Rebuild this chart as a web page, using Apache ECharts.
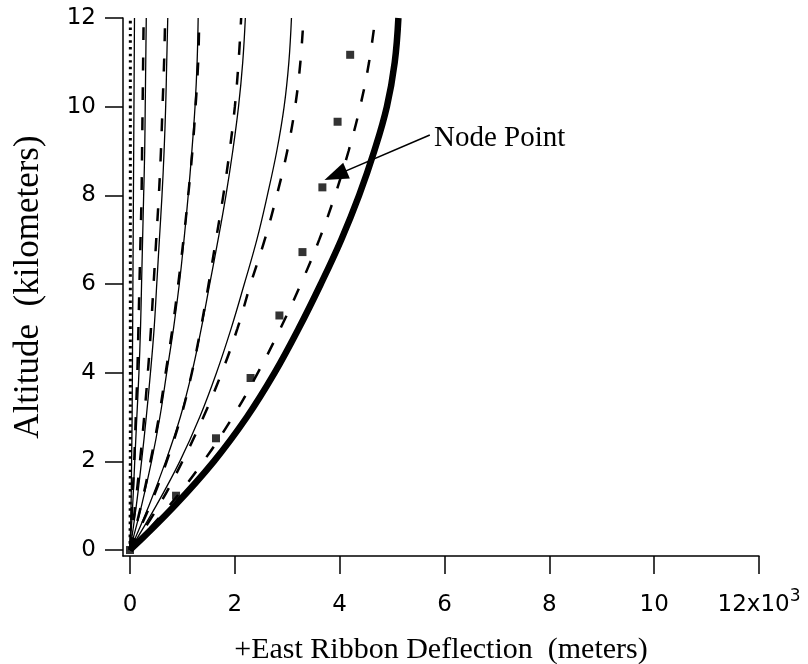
<!DOCTYPE html>
<html><head><meta charset="utf-8">
<script src="https://cdn.jsdelivr.net/npm/echarts@6/dist/echarts.min.js"></script>
<style>html,body{margin:0;padding:0;background:#fff}#c{width:808px;height:664px}</style>
</head><body><div id="c"></div>
<script>
// altitude samples (km)
const altitudes = [0,1,2,3,4,5,6,7,8,9,10,11,12];
// east deflection (m) per curve at the altitudes above
const dottedA = [0,3,5,6,6,6,6,6,6,6,6,6,6];
const solidB  = [0,20,30,40,45,50,55,60,65,70,75,80,85];
const solidC  = [0,50,90,130,170,200,220,240,260,280,290,300,310];
const dashC   = [0,40,80,110,140,160,180,200,220,230,240,250,260];
const solidD  = [0,120,220,310,390,460,510,560,610,650,680,700,720];
const dashD   = [0,100,190,270,340,400,450,500,550,590,620,650,670];
const solidE  = [0,220,410,570,700,830,940,1030,1110,1180,1240,1280,1300];
const dashE   = [0,210,390,550,680,810,920,1020,1110,1190,1250,1300,1320];
const solidF  = [0,360,680,960,1180,1360,1520,1680,1830,1960,2070,2150,2200];
const dashF   = [0,380,700,970,1180,1350,1500,1640,1780,1900,2000,2070,2120];
const solidG  = [0,500,950,1330,1650,1930,2180,2420,2620,2800,2940,3030,3080];
const dashG   = [0,550,1000,1400,1750,2050,2300,2570,2800,3000,3150,3250,3310];
const dashH   = [0,750,1400,1960,2440,2870,3260,3610,3910,4170,4390,4560,4680];
const thickI  = [0,850,1600,2230,2760,3220,3640,4030,4370,4660,4900,5050,5120];
// node points (m, km)
const nodeX = [0,878,1640,2300,2850,3290,3670,3960,4200];
const nodeAlt = [0,1.225,2.52,3.88,5.29,6.72,8.18,9.66,11.17];
// axis ticks
const xTicks = [0,2000,4000,6000,8000,10000,12000];
const yTicks = [0,2,4,6,8,10,12];
const xTitle = '+East Ribbon Deflection  (meters)';
const yTitle = 'Altitude  (kilometers)';
const annot = 'Node Point';
const annotFrom = [5720, 9.36];
const annotTo = [3920, 8.45];
const annotText = [5800, 9.29];

const pair = arr => arr.map((x,i)=>[x, altitudes[i]]);
function line(arr, type, width) {
  return {type:'line', data: pair(arr), smooth:0.4, showSymbol:false, symbol:'none',
    clip:true, silent:true, animation:false,
    lineStyle:{color:'#000', width:width, type:type}};
}
const DASH = [13,17];
const series = [
  line(dottedA, [2.5,4], 3),
  line(solidB, 'solid', 1.3),
  line(dashC, DASH, 2.5), line(solidC, 'solid', 1.3),
  line(dashD, DASH, 2.5), line(solidD, 'solid', 1.3),
  line(dashE, DASH, 2.5), line(solidE, 'solid', 1.3),
  line(dashF, DASH, 2.5), line(solidF, 'solid', 1.3),
  line(dashG, DASH, 2.5), line(solidG, 'solid', 1.3),
  line(dashH, DASH, 2.5),
  line(thickI, 'solid', 6.5),
  {type:'scatter', data: nodeX.map((x,i)=>[x,nodeAlt[i]]), symbol:'rect', symbolSize:8,
   itemStyle:{color:'#000'}, silent:true, animation:false,
   markLine:{silent:true, animation:false, symbol:['none','triangle'], symbolSize:[17,24],
     lineStyle:{color:'#000', width:1.6, type:'solid'}, label:{show:false},
     data:[[{coord:annotFrom},{coord:annotTo}]]},
   markPoint:{silent:true, animation:false, symbol:'circle', symbolSize:0,
     data:[{coord:annotText}],
     label:{show:true, position:'right', distance:0, formatter:annot, color:'#000',
       fontFamily:'Liberation Serif', fontSize:29}}}
];
const chart = echarts.init(document.getElementById('c'), null, {renderer:'canvas'});
chart.setOption({
  animation:false,
  backgroundColor:'#fff',
  grid:{left:123, right:49, top:18, bottom:108, containLabel:false, outerBoundsMode:'none'},
  xAxis:{type:'value', min:-134, max:12000,
    axisLine:{show:true, onZero:false, lineStyle:{color:'#000', width:1.5}},
    axisTick:{show:true, inside:false, length:18, customValues:xTicks, lineStyle:{color:'#000', width:1.5}},
    axisLabel:{show:true, margin:32, customValues:xTicks, color:'#000', fontFamily:'DejaVu Sans', fontSize:23, lineHeight:34,
      formatter:v=> v===12000 ? '{a|12x10}{s|3}' : String(v/1000),
      rich:{a:{fontFamily:'DejaVu Sans', fontSize:23, lineHeight:34, color:'#000'},
            s:{fontFamily:'DejaVu Sans', fontSize:17, color:'#000', verticalAlign:'top'}}},
    splitLine:{show:false},
    name:xTitle, nameLocation:'middle', nameGap:79,
    nameTextStyle:{color:'#000', fontFamily:'Liberation Serif', fontSize:30}},
  yAxis:{type:'value', min:-0.135, max:12,
    axisLine:{show:true, onZero:false, lineStyle:{color:'#000', width:1.5}},
    axisTick:{show:true, inside:false, length:18, customValues:yTicks, lineStyle:{color:'#000', width:1.5}},
    axisLabel:{show:true, margin:27, customValues:yTicks, color:'#000', fontFamily:'DejaVu Sans', fontSize:23},
    splitLine:{show:false},
    name:yTitle, nameLocation:'middle', nameGap:77, nameRotate:90,
    nameTextStyle:{color:'#000', fontFamily:'Liberation Serif', fontSize:35}},
  series: series
});
</script></body></html>
